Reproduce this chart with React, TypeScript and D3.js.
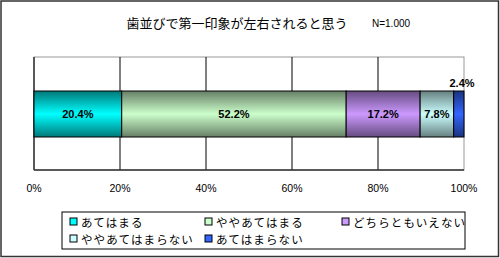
import React from "react";
import * as d3 from "d3";

const categories = ["あてはまる", "ややあてはまる", "どちらともいえない", "ややあてはまらない", "あてはまらない"];
const values = [20.4, 52.2, 17.2, 7.8, 2.4];
const colors = ["#00ffff", "#ccffcc", "#cc99ff", "#ccffff", "#3366ff"];
const darks = ["#007878", "#667f66", "#664c80", "#668080", "#1a3380"];
const ticks = [0, 20, 40, 60, 80, 100];
const title = "歯並びで第一印象が左右されると思う";
const nLabel = "N=1.000";

const W = 500, H = 258;
const left = 34, right = 464, top = 57, bottom = 170;
const barTop = 91, barBottom = 137;

export default function App() {
  const x = d3.scaleLinear().domain([0, 100]).range([left, right]);
  let cum = 0;
  const segs = values.map((v, i) => {
    const s = { i, v, x0: cum, x1: cum + v };
    cum += v;
    return s;
  });
  const font = "Arial, 'Liberation Sans', 'Noto Sans CJK JP', sans-serif";
  const legendPos = [
    [70, 222], [205, 222], [342, 222], [70, 239], [205, 239],
  ];
  return (
    <svg width={W} height={H} style={{ position: "absolute", left: 0, top: 0, fontFamily: font }}>
      <defs>
        {colors.map((c, i) => (
          <linearGradient key={i} id={"g" + i} x1="0" y1="0" x2="0" y2="1">
            <stop offset="0" stopColor={darks[i]} />
            <stop offset="0.5" stopColor={c} />
            <stop offset="1" stopColor={darks[i]} />
          </linearGradient>
        ))}
      </defs>
      <rect x={1} y={1} width={W - 2.5} height={H - 2.5} fill="#fff" stroke="#333" strokeWidth={1.5} />
      <text x={237} y={28} textAnchor="middle" fontSize={13} fill="#000" fontFamily="'Noto Sans CJK JP', sans-serif">{title}</text>
      <text x={372} y={27} fontSize={10} fill="#000">{nLabel}</text>
      <rect x={left} y={top} width={right - left} height={bottom - top} fill="#fff" stroke="#999" strokeWidth={1} />
      {ticks.slice(1, -1).map((t) => (
        <line key={t} x1={x(t)} x2={x(t)} y1={top} y2={bottom} stroke="#000" strokeWidth={1} />
      ))}
      <line x1={left} x2={left} y1={top} y2={bottom} stroke="#333" strokeWidth={1.5} />
      <line x1={left} x2={right} y1={bottom} y2={bottom} stroke="#333" strokeWidth={1.5} />
      {segs.map((s) => (
        <rect key={s.i} x={x(s.x0)} y={barTop} width={x(s.x1) - x(s.x0)} height={barBottom - barTop}
          fill={`url(#g${s.i})`} stroke="#000" strokeWidth={1} />
      ))}
      {segs.map((s) => {
        const small = s.v < 5;
        const cx = small ? x(s.x1) - 2 : (x(s.x0) + x(s.x1)) / 2;
        const cy = small ? barTop - 4 : (barTop + barBottom) / 2 + 4;
        return (
          <text key={s.i} x={cx} y={cy} textAnchor="middle" fontSize={11} fontWeight="bold" fill="#000">
            {s.v.toFixed(1)}%
          </text>
        );
      })}
      {ticks.map((t) => (
        <text key={t} x={x(t)} y={192} textAnchor="middle" fontSize={10.5} fill="#000">{t}%</text>
      ))}
      <rect x={62} y={212} width={403} height={37} fill="#fff" stroke="#000" strokeWidth={1} />
      <clipPath id="lc"><rect x={62} y={212} width={403} height={37} /></clipPath>
      <g clipPath="url(#lc)">
        {categories.map((c, i) => {
          const [lx, ly] = legendPos[i];
          return (
            <g key={i}>
              <rect x={lx} y={ly - 4} width={7} height={7} fill={colors[i]} stroke="#000" strokeWidth={1} />
              <text x={lx + 11} y={ly + 4.5} fontSize={11.5} letterSpacing={1.1} fill="#000" fontFamily="'Noto Sans CJK JP', sans-serif">{c}</text>
            </g>
          );
        })}
      </g>
    </svg>
  );
}
